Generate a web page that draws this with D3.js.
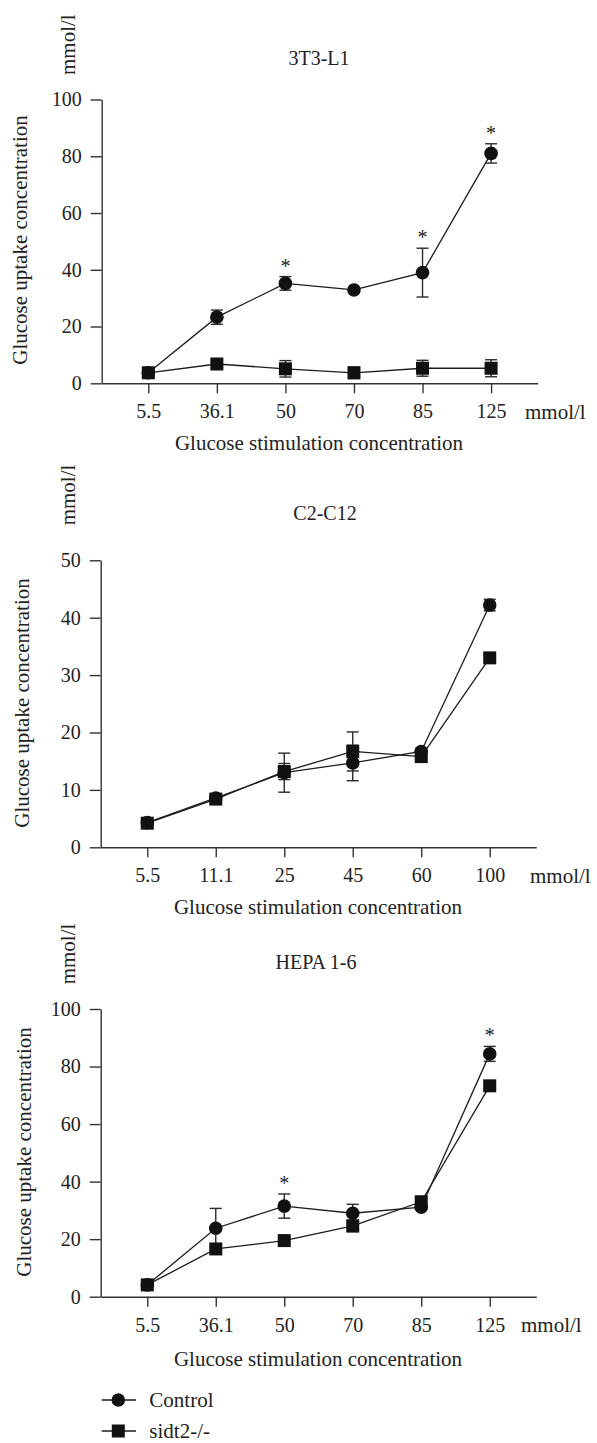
<!doctype html>
<html lang="en">
<head>
<meta charset="utf-8">
<script src="https://d3js.org/d3.v7.min.js"></script>
<title>Glucose uptake</title>
<style>
  body { margin: 0; background: #fff; }
  svg text { font-family: "Liberation Serif", Tinos, "DejaVu Serif", serif !important; fill: #222; }
</style>
</head>
<body>
<svg id="chart"></svg>
<script>
// ---- data ----
const cats1 = ["5.5", "36.1", "50", "70", "85", "125"];
const ctrl1 = [3.7, 23.3, 35.2, 32.9, 39.0, 81.0];
const ctrlErr1 = [0.5, 2.5, 2.4, 0.5, 8.6, 3.4];
const sidt1 = [3.7, 6.8, 5.1, 3.7, 5.3, 5.3];
const sidtErr1 = [0.8, 0.6, 2.9, 2.0, 2.8, 3.0];
const stars1 = ["50", "85", "125"];

const cats2 = ["5.5", "11.1", "25", "45", "60", "100"];
const ctrl2 = [4.3, 8.6, 13.0, 14.7, 16.7, 42.2];
const ctrlErr2 = [0.4, 0.5, 3.4, 3.1, 0.6, 1.0];
const sidt2 = [4.2, 8.4, 13.2, 16.7, 15.8, 33.0];
const sidtErr2 = [0.4, 0.5, 1.4, 3.4, 0.5, 0.6];
const stars2 = [];

const cats3 = ["5.5", "36.1", "50", "70", "85", "125"];
const ctrl3 = [4.1, 23.8, 31.5, 29.0, 31.1, 84.4];
const ctrlErr3 = [0.5, 6.9, 4.2, 3.1, 0.5, 2.6];
const sidt3 = [4.1, 16.6, 19.5, 24.6, 33.0, 73.3];
const sidtErr3 = [0.5, 0.8, 0.8, 2.0, 0.8, 0.8];
const stars3 = ["50", "125"];

const titles = ["3T3-L1", "C2-C12", "HEPA 1-6"];
const yMax = [100, 50, 100];
const yStep = [20, 10, 20];
const legendLabels = ["Control", "sidt2-/-"];

// ---- layout ----
const width = 597, height = 1443;
const layout = [
  { left: 101.7, right: 537.7, top: 99.5, bottom: 383.3, titleY: 58, unitY: 44.7, ylabY: 240, ylabX: 27, xtitleY: 443, unitX: 525, titleX: 319, xtitleX: 319 },
  { left: 100.7, right: 536.3, top: 560.3, bottom: 847.3, titleY: 513, unitY: 495, ylabY: 703, ylabX: 29, xtitleY: 907, unitX: 530, titleX: 325, xtitleX: 318 },
  { left: 100.7, right: 536.3, top: 1009, bottom: 1296.7, titleY: 962, unitY: 954, ylabY: 1152, ylabX: 31, xtitleY: 1359, unitX: 521, titleX: 316, xtitleX: 318 }
];

const panels = [
  { cats: cats1, ctrl: ctrl1, ctrlErr: ctrlErr1, sidt: sidt1, sidtErr: sidtErr1, stars: stars1 },
  { cats: cats2, ctrl: ctrl2, ctrlErr: ctrlErr2, sidt: sidt2, sidtErr: sidtErr2, stars: stars2 },
  { cats: cats3, ctrl: ctrl3, ctrlErr: ctrlErr3, sidt: sidt3, sidtErr: sidtErr3, stars: stars3 }
];

const ink = "#1c1c1c", axisInk = "#333";
const serif = "'Liberation Serif', Tinos, 'DejaVu Serif', serif";
const tickFont = 20, labelFont = 21;
const r = 6.8, sq = 13, cap = 6;

const svg = d3.select("#chart").attr("width", width).attr("height", height);

// baseline for a text whose visual centre should sit at cy
const base = (cy, fs) => cy + 0.34 * fs;

function drawPanel(p, L, i) {
  const g = svg.append("g").attr("font-family", serif);

  const x = d3.scalePoint().domain(p.cats).range([L.left, L.right]).padding(0.68);
  const y = d3.scaleLinear().domain([0, yMax[i]]).range([L.bottom, L.top]);

  // axes
  const xAxis = g.append("g")
    .attr("transform", `translate(0,${L.bottom})`)
    .call(d3.axisBottom(x).tickSize(10).tickSizeOuter(0).tickPadding(11));
  const yAxis = g.append("g")
    .attr("transform", `translate(${L.left},0)`)
    .call(d3.axisLeft(y).tickValues(d3.range(0, yMax[i] + 0.01, yStep[i])).tickSize(11).tickSizeOuter(0).tickPadding(9));
  [xAxis, yAxis].forEach(a => {
    a.attr("font-family", serif).attr("font-size", tickFont);
    a.selectAll("path, line").attr("stroke", axisInk).attr("stroke-width", 1.4);
    a.selectAll("text").attr("font-size", tickFont).attr("fill", "#222");
  });

  // lines
  const line = vals => d3.line().x((d, j) => x(p.cats[j])).y(d => y(d))(vals);
  g.append("path").attr("d", line(p.ctrl)).attr("fill", "none").attr("stroke", ink).attr("stroke-width", 1.3);
  g.append("path").attr("d", line(p.sidt)).attr("fill", "none").attr("stroke", ink).attr("stroke-width", 1.3);

  // error bars
  function errBars(vals, errs) {
    const eg = g.append("g").attr("stroke", "#2a2a2a").attr("stroke-width", 1.4).attr("fill", "none");
    vals.forEach((v, j) => {
      const cx = x(p.cats[j]);
      const y1 = y(v + errs[j]), y0 = y(v - errs[j]);
      eg.append("line").attr("x1", cx).attr("x2", cx).attr("y1", y1).attr("y2", y0);
      eg.append("line").attr("x1", cx - cap).attr("x2", cx + cap).attr("y1", y1).attr("y2", y1);
      eg.append("line").attr("x1", cx - cap).attr("x2", cx + cap).attr("y1", y0).attr("y2", y0);
    });
  }
  errBars(p.ctrl, p.ctrlErr);
  errBars(p.sidt, p.sidtErr);

  // markers
  g.append("g").selectAll("rect").data(p.sidt).join("rect")
    .attr("x", (d, j) => x(p.cats[j]) - sq / 2)
    .attr("y", d => y(d) - sq / 2)
    .attr("width", sq).attr("height", sq).attr("fill", "#111");
  g.append("g").selectAll("circle").data(p.ctrl).join("circle")
    .attr("cx", (d, j) => x(p.cats[j]))
    .attr("cy", d => y(d))
    .attr("r", r).attr("fill", "#111");

  // significance stars
  p.stars.forEach(c => {
    const j = p.cats.indexOf(c);
    g.append("text")
      .attr("x", x(c)).attr("y", y(p.ctrl[j] + p.ctrlErr[j]) - 4)
      .attr("text-anchor", "middle").attr("font-size", 20).attr("fill", "#444")
      .text("*");
  });

  // texts
  g.append("text").attr("x", L.titleX).attr("y", base(L.titleY, 20))
    .attr("text-anchor", "middle").attr("font-size", 20).text(titles[i]);
  g.append("text").attr("transform", `translate(75,${L.unitY}) rotate(-90)`)
    .attr("text-anchor", "middle").attr("font-size", labelFont).text("mmol/l");
  g.append("text").attr("transform", `translate(${L.ylabX},${L.ylabY}) rotate(-90)`)
    .attr("text-anchor", "middle").attr("font-size", labelFont).text("Glucose uptake concentration");
  g.append("text").attr("x", L.unitX).attr("y", base(L.bottom + 28.4, tickFont))
    .attr("font-size", labelFont).text("mmol/l");
  g.append("text").attr("x", L.xtitleX).attr("y", base(L.xtitleY, labelFont))
    .attr("text-anchor", "middle").attr("font-size", labelFont).text("Glucose stimulation concentration");
}

panels.forEach((p, i) => drawPanel(p, layout[i], i));

// legend
const legend = svg.append("g").attr("font-family", serif);
const legY = [1400, 1431];
legendLabels.forEach((lab, k) => {
  const gy = legY[k];
  legend.append("line").attr("x1", 101.7).attr("x2", 136).attr("y1", gy).attr("y2", gy)
    .attr("stroke", ink).attr("stroke-width", 1.4);
  if (k === 0) {
    legend.append("circle").attr("cx", 118.3).attr("cy", gy).attr("r", r).attr("fill", "#111");
  } else {
    legend.append("rect").attr("x", 118.3 - sq / 2).attr("y", gy - sq / 2).attr("width", sq).attr("height", sq).attr("fill", "#111");
  }
  legend.append("text").attr("x", 149.3).attr("y", base(gy, labelFont)).attr("font-size", labelFont).text(lab);
});
</script>
</body>
</html>
